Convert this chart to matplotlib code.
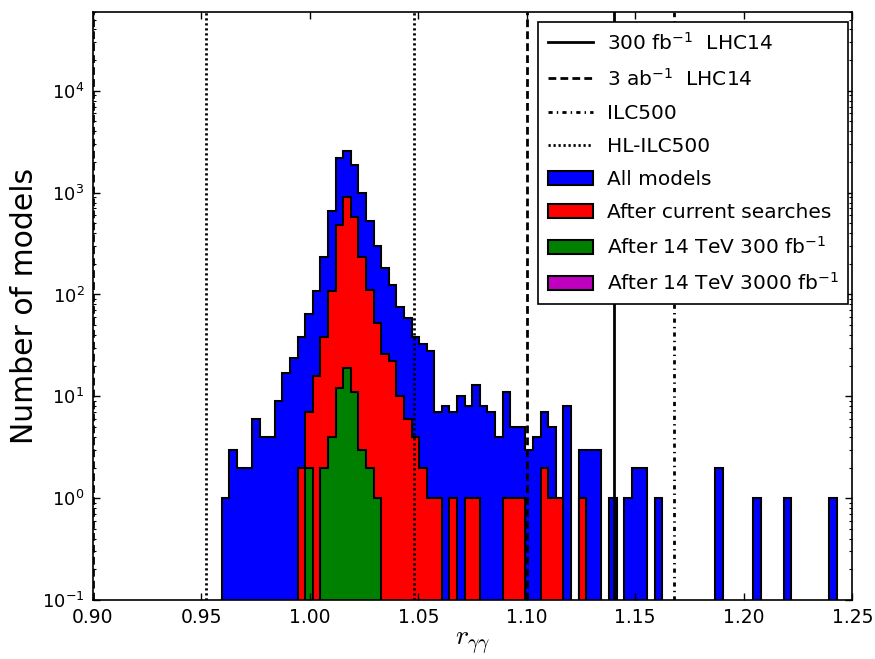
import numpy as np
import matplotlib.pyplot as plt

# binning of r_gamma_gamma
bin_start = 0.9594
bin_width = 0.0035
n_bins = 81

# counts per bin
all_models = [1, 3, 2, 2, 6, 4, 4, 9, 17, 24,
              38, 65, 108, 231, 660, 2175, 2590, 1870, 985, 530,
              299, 182, 123, 75, 59, 38, 33, 28, 7, 8,
              7, 10, 8, 13, 8, 7, 4, 11, 5, 5,
              3, 4, 7, 5, 1, 8, 0, 3, 3, 3,
              0, 1, 0, 1, 2, 2, 0, 1, 0, 0,
              0, 0, 0, 0, 0, 2, 0, 0, 0, 0,
              1, 0, 0, 0, 1, 0, 0, 0, 0, 0,
              1]
after_current = [0, 0, 0, 0, 0, 0, 0, 0, 0, 0,
                 2, 7, 16, 38, 108, 480, 900, 580, 234, 110,
                 52, 26, 22, 10, 6, 4, 2, 1, 1, 0,
                 1, 0, 1, 1, 0, 0, 0, 1, 1, 1,
                 0, 0, 2, 1, 1, 0, 0, 1, 0, 0,
                 0, 0, 0, 0, 0, 0, 0, 0, 0, 0,
                 0, 0, 0, 0, 0, 0, 0, 0, 0, 0,
                 0, 0, 0, 0, 0, 0, 0, 0, 0, 0,
                 0]
after_300 = [0] * 11 + [2, 0, 2, 4, 12, 19, 11, 3, 2, 1] + [0] * 60
after_3000 = [0] * 81

# projected sensitivities
lhc300 = [1.14]
lhc3000 = [0.90, 1.10]
ilc500 = [0.832, 1.168]
hl_ilc500 = [0.952, 1.048]

edges = bin_start + bin_width * np.arange(n_bins + 1)
centers = 0.5 * (edges[:-1] + edges[1:])

fig = plt.figure(figsize=(8.75, 6.59), dpi=100)
ax = fig.add_axes([0.106, 0.0895, 0.868, 0.893])

hists = [(all_models, '#0000ff', 'All models'),
         (after_current, '#ff0000', 'After current searches'),
         (after_300, '#008000', 'After 14 TeV 300 fb$^{-1}$'),
         (after_3000, '#bf00bf', 'After 14 TeV 3000 fb$^{-1}$')]
patches = []
for counts, col, lab in hists:
    _, _, p = ax.hist(centers, bins=edges, weights=counts, histtype='stepfilled',
                      color=col, edgecolor='black', linewidth=1.5, label=lab)
    patches.append(p[0])

ax.set_yscale('log')

# line styles: solid, dashed, dash-dot, dotted
styles = [(lhc300, (None, None), '300 fb$^{-1}$  LHC14'),
          (lhc3000, (2.8, 1.5), '3 ab$^{-1}$  LHC14'),
          (ilc500, (1.5, 1.5, 0.5, 1.5), 'ILC500'),
          (hl_ilc500, (0.8, 1.0), 'HL-ILC500')]
lines = []
for xs, dash, lab in styles:
    for i, x in enumerate(xs):
        l = ax.axvline(x, color='black', linewidth=2)
        if dash[0] is not None:
            l.set_dashes(dash)
        if i == 0:
            l.set_label(lab)
            lines.append(l)

ax.set_xlim(0.90, 1.25)
ax.set_ylim(0.1, 6e4)
ax.set_xticks(np.arange(0.90, 1.2501, 0.05))
ax.set_xticklabels(['%.2f' % v for v in np.arange(0.90, 1.2501, 0.05)])

ax.tick_params(which='both', direction='in', top=True, right=True)
ax.tick_params(which='major', length=5, width=1)
ax.tick_params(which='minor', length=2.5, width=0.8)
ax.tick_params(axis='x', pad=6, labelsize=13.5)
ax.tick_params(axis='y', pad=6, labelsize=13)
for s in ax.spines.values():
    s.set_linewidth(1.2)

ax.set_xlabel(r'$r_{\gamma\gamma}$', fontsize=20, math_fontfamily='cm', labelpad=1)
ax.set_ylabel('Number of models', fontsize=21.5, labelpad=2)

handles = lines + patches
labels = [h.get_label() for h in handles]
leg = ax.legend(handles, labels, loc='upper right', bbox_to_anchor=(0.995, 0.983),
                fontsize=14.5, fancybox=False, framealpha=1, edgecolor='black',
                handlelength=2.2, labelspacing=0.7, borderpad=0.5,
                handletextpad=0.7, borderaxespad=0)
leg.get_frame().set_linewidth(1.2)

fig.savefig('out.png', dpi=100)
